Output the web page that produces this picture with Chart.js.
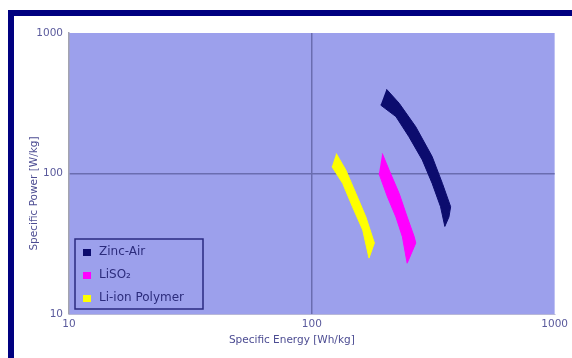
<!DOCTYPE html>
<html>
<head>
<meta charset="utf-8">
<script src="https://cdn.jsdelivr.net/npm/chart.js@4/dist/chart.umd.min.js"></script>
<style>
  html, body { margin: 0; padding: 0; background: #ffffff; }
  #wrap { position: relative; width: 572px; height: 358px; overflow: hidden; }
  #frame { position: absolute; left: 8px; top: 10px; width: 620px; height: 400px;
           border-top: 6px solid #000080; border-left: 6px solid #000080; }
  #c { position: absolute; left: 0; top: 0; }
</style>
</head>
<body>
<div id="wrap">
  <div id="frame"></div>
  <canvas id="c" width="572" height="358"></canvas>
</div>
<script>
// Battery technologies: each band is an outline of (specific energy, specific power) points
const seriesNames = ['Zinc-Air', 'LiSO₂', 'Li-ion Polymer'];
const seriesColors = ['#0c0c6e', '#ff00ff', '#ffff00'];

const zincAirEnergy = [203, 229, 268, 313, 345, 373, 367, 353, 339, 313, 285, 251, 222, 192];
const zincAirPower  = [398, 316, 215, 132, 85, 58, 49, 42, 58, 85, 125, 183, 254, 307];

const liso2Energy = [195, 208, 229, 247, 264, 268, 247, 236, 222, 205, 189];
const liso2Power  = [139, 106, 72, 49, 35.5, 32, 23, 35.5, 49, 68, 100];

const liionEnergy = [126, 138, 152, 167, 181, 172, 162, 147, 134, 121];
const liionPower  = [139, 106, 72, 49, 32, 25, 39.6, 58, 85, 112];

const energyTicks = [10, 100, 1000];
const powerTicks  = [10, 100, 1000];

const xTitle = 'Specific Energy [Wh/kg]';
const yTitle = 'Specific Power [W/kg]';

const FONT = "'DejaVu Sans', 'Liberation Sans', sans-serif";

function toPoints(xs, ys) {
  return xs.map((x, i) => ({ x: x, y: ys[i] }));
}

const bands = [
  toPoints(zincAirEnergy, zincAirPower),
  toPoints(liso2Energy, liso2Power),
  toPoints(liionEnergy, liionPower)
];

const datasets = bands.map((pts, i) => ({
  label: seriesNames[i],
  data: pts,
  showLine: true,
  fill: 'shape',
  backgroundColor: seriesColors[i],
  borderColor: seriesColors[i],
  borderWidth: 1,
  pointRadius: 0,
  tension: 0
}));

// plot area fill
const plotBackground = {
  id: 'plotBackground',
  beforeDraw(chart) {
    const { ctx, chartArea: a } = chart;
    ctx.save();
    ctx.fillStyle = '#9ca0ec';
    ctx.fillRect(a.left, a.top, a.right - a.left, a.bottom - a.top);
    ctx.restore();
  }
};

// axis titles
const axisTitles = {
  id: 'axisTitles',
  afterDraw(chart) {
    const { ctx, chartArea: a } = chart;
    ctx.save();
    ctx.fillStyle = '#4c4c92';
    ctx.font = '10.5px ' + FONT;
    ctx.textAlign = 'center';
    ctx.textBaseline = 'middle';
    ctx.fillText(xTitle, (a.left + a.right) / 2 - 20, 340);
    ctx.translate(34, (a.top + a.bottom) / 2 + 20);
    ctx.rotate(-Math.PI / 2);
    ctx.fillText(yTitle, 0, 0);
    ctx.restore();
  }
};

// legend box inside the lower-left corner of the plot
const bandLegend = {
  id: 'bandLegend',
  afterDatasetsDraw(chart) {
    const { ctx, chartArea: a } = chart;
    const left = a.left + 6, top = a.bottom - 75, w = 128, h = 70;
    ctx.save();
    ctx.strokeStyle = '#2a2a80';
    ctx.lineWidth = 1.5;
    ctx.strokeRect(left, top, w, h);
    ctx.font = '12px ' + FONT;
    ctx.textBaseline = 'middle';
    ctx.textAlign = 'left';
    chart.data.datasets.forEach((ds, i) => {
      const cy = top + 13 + i * 23;
      ctx.fillStyle = ds.backgroundColor;
      ctx.fillRect(left + 8, cy - 3, 8, 7);
      ctx.fillStyle = '#2c2c7c';
      ctx.fillText(ds.label, left + 24, cy);
    });
    ctx.restore();
  }
};

function gridColor(ctx) {
  const v = ctx.tick && ctx.tick.value;
  if (v === 100) return '#6a6db0';
  return 'rgba(0,0,0,0)';
}

new Chart(document.getElementById('c'), {
  type: 'scatter',
  data: { datasets: datasets },
  options: {
    responsive: false,
    animation: false,
    layout: { padding: { left: 0, top: 33, right: 16, bottom: 0 } },
    plugins: {
      legend: { display: false },
      tooltip: { enabled: false }
    },
    scales: {
      x: {
        type: 'logarithmic',
        position: 'bottom',
        min: 10,
        max: 1000,
        afterBuildTicks(s) { s.ticks = energyTicks.map(v => ({ value: v })); },
        afterFit(s) { s.height = 44; },
        ticks: {
          autoSkip: false,
          maxRotation: 0,
          padding: 4,
          color: '#5a5a9c',
          font: { family: FONT, size: 10.5 },
          callback: v => String(v)
        },
        grid: { color: gridColor, lineWidth: 1.5, drawTicks: false },
        border: { display: true, color: '#b8b8d8', width: 1 }
      },
      y: {
        type: 'logarithmic',
        position: 'left',
        min: 10,
        max: 1000,
        afterBuildTicks(s) { s.ticks = powerTicks.map(v => ({ value: v })); },
        afterFit(s) { s.width = 69; },
        ticks: {
          autoSkip: false,
          padding: 6,
          color: '#5a5a9c',
          font: { family: FONT, size: 10.5 },
          callback: v => String(v)
        },
        grid: { color: gridColor, lineWidth: 1.5, drawTicks: false },
        border: { display: true, color: '#a4a4b0', width: 1.5 }
      }
    }
  },
  plugins: [plotBackground, axisTitles, bandLegend]
});
</script>
</body>
</html>
